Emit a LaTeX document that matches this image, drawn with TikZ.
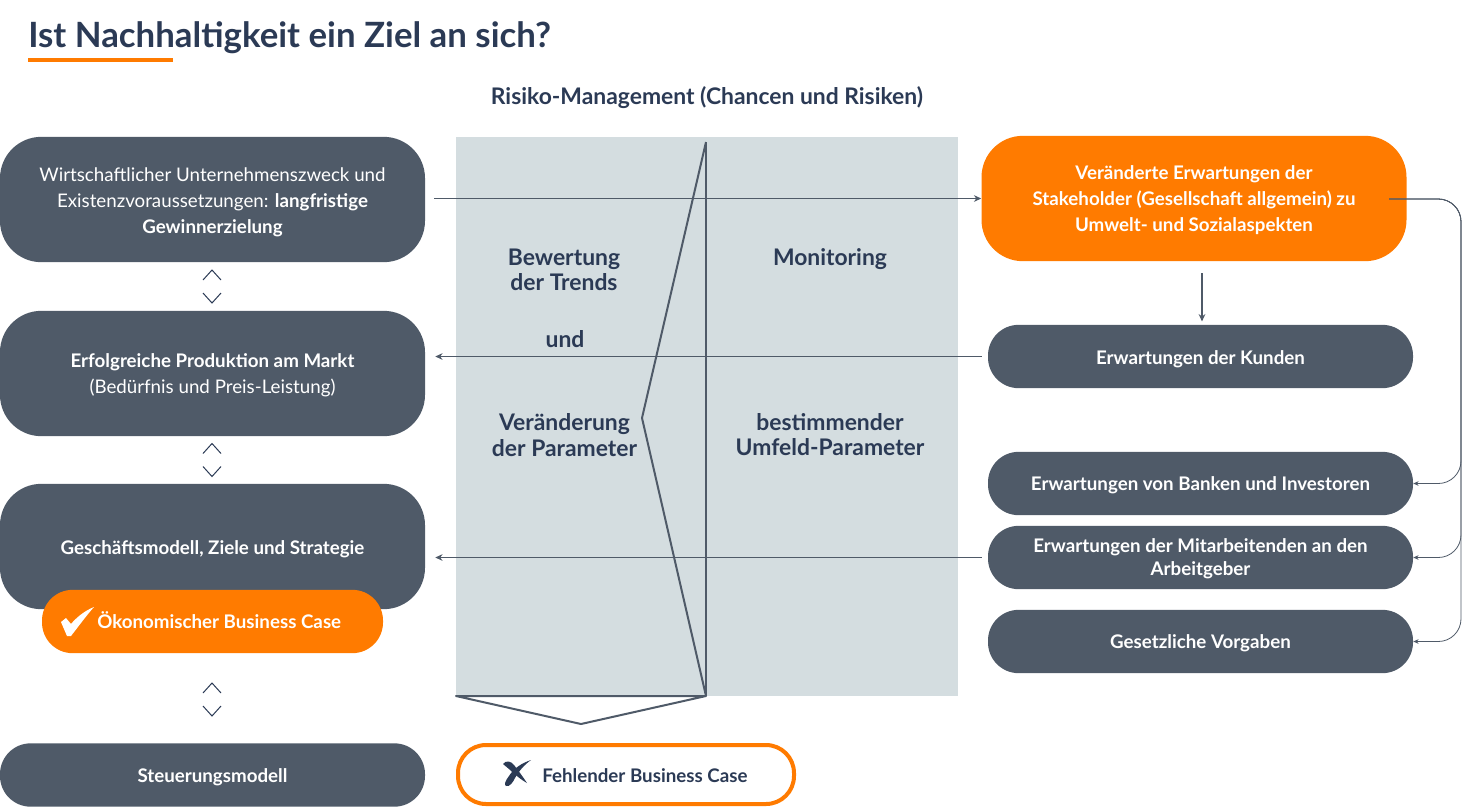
\documentclass[tikz,border=0pt]{standalone}
\usepackage{fontspec}
\setmainfont{Lato}
\usepackage{tikz}
\usetikzlibrary{positioning, arrows.meta}
\definecolor{slate}{HTML}{4F5A68}
\definecolor{navy}{HTML}{2B3A55}
\definecolor{signal}{HTML}{FF7B00}
\definecolor{panel}{HTML}{D4DDE0}
\newcommand{\Fs}{\fontsize{14.05pt}{19.5pt}\selectfont}
\newcommand{\Fm}{\fontsize{17.15pt}{19pt}\selectfont\bfseries}
\newcommand{\Up}[1]{\rule{0pt}{#1pt}}

\tikzset{
    box/.style={fill=slate, text=white, align=center, inner sep=0pt, minimum width=318.75pt, font=\Fs},
    bigbox/.style={box, minimum height=94pt, rounded corners=31pt},
    smallbox/.style={box, minimum height=47.5pt, rounded corners=23pt},
    panellabel/.style={text=navy, align=center, font=\Fm},
    flow/.style={draw=slate, line width=1.1pt, -{Stealth[length=5.5pt,width=5pt]}},
    fan/.style={draw=slate, line width=0.6pt, rounded corners=17pt, -{Stealth[length=4pt,width=3.5pt]}},
    wedge/.style={draw=slate, line width=1.5pt, line join=round},
    updown/.style={draw=navy, line width=0.75pt}
}

\begin{document}
\begin{tikzpicture}[x=0.75pt, y=-0.75pt]
    \useasboundingbox (0,0) rectangle (1464,808);

    % title
    \node (title) [anchor=west, inner sep=0pt, text=navy, font=\fontsize{26.1pt}{30pt}\selectfont\bfseries] at (28,38) {Ist Nachhaltigkeit ein Ziel an sich?};
    \fill [signal] (28,58) rectangle (173,62);
    \node (risk) [panellabel] at (707,98) {Risiko-Management (Chancen und Risiken)};

    % middle panel
    \fill [panel] (456,137) rectangle (958,696);
    \node (trends) [panellabel] at (564,270) {Bewertung\\der Trends};
    \node (und) [panellabel] at (565,339) {und};
    \node (param) [panellabel] at (564.5,435) {Veränderung\\der Parameter};
    \node (monitor) [panellabel] at (830,259) {Monitoring};
    \node (umfeld) [panellabel] at (830,434.5) {bestimmender\\Umfeld-Parameter};

    \draw [wedge] (706,142) -- (706,696);
    \draw [wedge] (706,142) -- (642,418) -- (706,696);
    \draw [wedge, fill=white] (456,696) -- (706,696) -- (581,724) -- cycle;

    % left column
    \node (ziel) [bigbox] at (212.5,199.5) {\Up{14.8}Wirtschaftlicher Unternehmenszweck und\\Existenzvoraussetzungen: \textbf{langfristige}\\\textbf{Gewinnerzielung}};
    \node (markt) [bigbox] at (212.5,373.5) {\Up{13.3}\textbf{Erfolgreiche Produktion am Markt}\\(Bedürfnis und Preis-Leistung)};
    \node (modell) [bigbox] at (212.5,546.5) {\Up{14}\textbf{Geschäftsmodell, Ziele und Strategie}};
    \node (steuer) [smallbox] at (212.5,775) {\Up{14}\textbf{Steuerungsmodell}};
    \node (oeko) [smallbox, fill=signal, minimum width=255.75pt] at (212.5,621.5) {};
    \node (oekotext) [anchor=west, inner sep=0pt, text=white, font=\Fs\bfseries] at (97,620.5) {Ökonomischer Business Case};
    \node (fehlt) [smallbox, fill=white, draw=signal, line width=3pt, minimum width=252pt, minimum height=44.25pt, rounded corners=21pt] at (626,774.5) {};
    \node (fehlttext) [anchor=west, inner sep=0pt, text=navy, font=\Fs\bfseries] at (542,775.5) {Fehlender Business Case};

    % check and cross
    \fill [white] (61,622) -- (66,618) -- (71,624) .. controls (76,618) and (84,611) .. (94,607) .. controls (86,616) and (78,627) .. (71,636) -- (67,636) -- cycle;
    \fill [navy] (503,764) .. controls (506,760) and (511,761) .. (514,765) .. controls (518,770) and (523,777) .. (527,783) .. controls (520,779) and (513,773) .. (509,769) .. controls (507,767) and (505,766) .. (503,764) -- cycle;
    \fill [navy] (531,760) .. controls (522,763) and (514,768) .. (509,776) .. controls (505,781) and (504,785) .. (506,786) .. controls (510,787) and (513,782) .. (515,778) .. controls (519,771) and (524,765) .. (531,760) -- cycle;

    % up and down marks
    \foreach \Y in {270,443.5,683}{
        \draw [updown] (203,\Y+10) -- (212,\Y) -- (221,\Y+10);
        \draw [updown] (203,\Y+23) -- (212,\Y+33) -- (221,\Y+23);
    }

    % right column
    \node (stake) [bigbox, fill=signal, font=\Fs\bfseries] at (1194,198.5) {\Up{13.3}Veränderte Erwartungen der\\Stakeholder (Gesellschaft allgemein) zu\\Umwelt- und Sozialaspekten};
    \node (kunden) [smallbox, font=\Fs\bfseries] at (1200.5,356.5) {\Up{14}Erwartungen der Kunden};
    \node (banken) [smallbox, font=\Fs\bfseries] at (1200.5,483.5) {\Up{12.5}Erwartungen von Banken und Investoren};
    \node (arbeit) [smallbox, font=\fontsize{14.05pt}{17.25pt}\selectfont\bfseries] at (1200.5,557.5) {\Up{11.8}Erwartungen der Mitarbeitenden an den\\Arbeitgeber};
    \node (gesetz) [smallbox, font=\Fs\bfseries] at (1200.5,641.5) {\Up{12.5}Gesetzliche Vorgaben};

    % connectors
    \draw [flow] ([xshift=6.75pt]ziel.east |- stake.west) -- (stake.west);
    \draw [flow] ([xshift=-4.5pt]kunden.west) -- ([xshift=7.5pt]kunden.west -| markt.east);
    \draw [flow] ([xshift=-4.5pt]arbeit.west) -- ([xshift=7.5pt]arbeit.west -| modell.east);
    \draw [flow] ([xshift=6pt,yshift=-9pt]stake.south) -- ([xshift=6pt,yshift=-45pt]stake.south);

    \coordinate (busstart) at (1389,199);
    \foreach \N in {banken,arbeit,gesetz}{
        \draw [fan] (busstart) -- (1461,199) -- (1461,0 |- \N.east) -- (\N.east);
    }
\end{tikzpicture}
\end{document}
